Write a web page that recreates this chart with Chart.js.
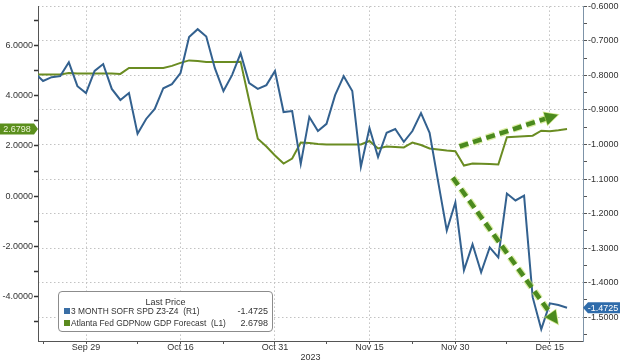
<!DOCTYPE html>
<html>
<head>
<meta charset="utf-8">
<script src="https://cdn.jsdelivr.net/npm/chart.js@4.4.1/dist/chart.umd.min.js"></script>
<style>
body{margin:0;background:#fff}
#wrap{position:relative;width:620px;height:363px}
#legend{position:absolute;left:58px;top:291px;width:215px;height:41px;box-sizing:border-box;border:1.5px solid #8c8c8c;border-radius:4px;background:#fff;font:9px "Liberation Sans",Arial,sans-serif;color:#333}
#legend div{position:absolute;line-height:10px;white-space:pre}
#legend .hd{left:0;right:0;top:5px;text-align:center}
#legend .sw{width:6px;height:6px;left:5px}
#legend .nm{left:12px;font-size:8.4px}
#legend .val{right:4px}
</style>
</head>
<body>
<div id="wrap">
    <canvas id="myChart" width="620" height="363"></canvas>
    <div id="legend">
        <div class="hd">Last Price</div>
        <div class="sw" style="top:16px;background:#3a6ea5"></div>
        <div class="nm" style="top:14px">3 MONTH SOFR SPD Z3-Z4  (R1)</div>
        <div class="val" style="top:14px" id="v1"></div>
        <div class="sw" style="top:28px;background:#5a8a1e"></div>
        <div class="nm" style="top:26px">Atlanta Fed GDPNow GDP Forecast  (L1)</div>
        <div class="val" style="top:26px" id="v2"></div>
    </div>
</div>
<script>
const dates = ["Sep 21","Sep 22","Sep 25","Sep 26","Sep 27","Sep 28","Sep 29",
    "Oct 2","Oct 3","Oct 4","Oct 5","Oct 6","Oct 9","Oct 10","Oct 11","Oct 12","Oct 13","Oct 16",
    "Oct 17","Oct 18","Oct 19","Oct 20","Oct 23","Oct 24","Oct 25","Oct 26","Oct 27","Oct 30","Oct 31",
    "Nov 1","Nov 2","Nov 3","Nov 6","Nov 7","Nov 8","Nov 9","Nov 10","Nov 13","Nov 14","Nov 15",
    "Nov 16","Nov 17","Nov 20","Nov 21","Nov 22","Nov 24","Nov 27","Nov 28","Nov 29","Nov 30",
    "Dec 1","Dec 4","Dec 5","Dec 6","Dec 7","Dec 8","Dec 11","Dec 12","Dec 13","Dec 14","Dec 15",
    "Dec 18","Dec 19","Dec 20","Dec 21"]

// 3 month SOFR spread Z3-Z4, right axis
const sofrSpread = [-0.792,-0.816,-0.805,-0.802,-0.762,-0.831,-0.851,-0.787,-0.767,-0.839,
    -0.871,-0.851,-0.969,-0.926,-0.897,-0.837,-0.825,-0.793,-0.689,-0.666,
    -0.687,-0.779,-0.845,-0.799,-0.736,-0.822,-0.839,-0.828,-0.787,-0.906,
    -0.903,-1.056,-0.920,-0.961,-0.940,-0.857,-0.802,-0.845,-1.064,-0.952,
    -1.036,-0.966,-0.955,-0.992,-0.961,-0.909,-0.966,-1.108,-1.249,-1.168,
    -1.364,-1.289,-1.370,-1.298,-1.327,-1.142,-1.162,-1.148,-1.442,-1.535,
    -1.460,-1.465,-1.4725]

// Atlanta Fed GDPNow, left axis
const gdpNow = [4.86,4.86,4.86,4.86,4.92,4.90,4.90,4.90,4.90,4.90,
    4.88,5.12,5.12,5.12,5.12,5.12,5.20,5.32,5.42,5.40,
    5.36,5.36,5.36,5.36,5.37,3.81,2.29,1.98,1.62,1.30,
    1.50,2.14,2.12,2.08,2.06,2.06,2.06,2.06,2.06,2.20,
    1.90,1.98,1.96,1.94,2.14,2.04,1.90,1.86,1.82,1.79,
    1.22,1.30,1.29,1.28,1.26,2.35,2.37,2.39,2.41,2.61,
    2.59,2.63,2.6798]

const xTickLabels = ["Sep 29","Oct 16","Oct 31","Nov 15","Nov 30","Dec 15"]
const xMinorLabels = ["Sep 22","Oct 9","Oct 23","Nov 8","Nov 22","Dec 8"]
const leftTicks = [6,4,2,0,-2,-4]
const rightTicks = [-0.6,-0.7,-0.8,-0.9,-1.0,-1.1,-1.2,-1.3,-1.4,-1.5]

// hand drawn trend arrows, in date index / axis value terms
const trendArrows = [
    {axis: "yL", from: [49.5, 1.98], to: [60.95, 3.25]},
    {axis: "yR", from: [48.7, -1.096], to: [60.95, -1.52]}
]

const lastSofr = sofrSpread[sofrSpread.length - 1]
const lastGdp = gdpNow[gdpNow.length - 1]
document.getElementById("v1").innerText = lastSofr.toFixed(4)
document.getElementById("v2").innerText = lastGdp.toFixed(4)

const majorX = xTickLabels.map(d => dates.indexOf(d))
const minorX = xMinorLabels.map(d => dates.indexOf(d))
const isMajorR = v => rightTicks.some(t => Math.abs(t - v) < 1e-6)
const font = {family: "'Liberation Sans', Arial, sans-serif", size: 9}

function drawArrow(ctx, x1, y1, x2, y2) {
    const ang = Math.atan2(y2 - y1, x2 - x1)
    const head = 13
    const bx = x2 - Math.cos(ang) * head, by = y2 - Math.sin(ang) * head
    ctx.save()
    ctx.lineCap = "butt"
    ctx.setLineDash([9, 5])
    ctx.strokeStyle = "rgba(190,222,90,0.55)"
    ctx.lineWidth = 7
    ctx.beginPath(); ctx.moveTo(x1, y1); ctx.lineTo(bx, by); ctx.stroke()
    ctx.strokeStyle = "#4b8a1e"
    ctx.lineWidth = 4.5
    ctx.beginPath(); ctx.moveTo(x1, y1); ctx.lineTo(bx, by); ctx.stroke()
    ctx.setLineDash([])
    const px = -Math.sin(ang) * 6.5, py = Math.cos(ang) * 6.5
    ctx.fillStyle = "#4b8a1e"
    ctx.strokeStyle = "rgba(190,222,90,0.7)"
    ctx.lineWidth = 1.5
    ctx.beginPath()
    ctx.moveTo(x2, y2); ctx.lineTo(bx + px, by + py); ctx.lineTo(bx - px, by - py); ctx.closePath()
    ctx.stroke(); ctx.fill()
    ctx.restore()
}

const overlay = {
    id: "overlay",
    afterDatasetsDraw(chart) {
        const x = chart.scales.x
        trendArrows.forEach(a => {
            const s = chart.scales[a.axis]
            drawArrow(chart.ctx, x.getPixelForValue(a.from[0]), s.getPixelForValue(a.from[1]),
                x.getPixelForValue(a.to[0]), s.getPixelForValue(a.to[1]))
        })
    },
    afterDraw(chart) {
        const ctx = chart.ctx
        const area = chart.chartArea
        ctx.save()
        ctx.font = "9px 'Liberation Sans', Arial, sans-serif"
        ctx.textBaseline = "middle"
        ctx.textAlign = "center"

        let y = chart.scales.yL.getPixelForValue(lastGdp)
        ctx.fillStyle = "#5b8f1d"
        ctx.beginPath()
        ctx.moveTo(0, y - 5.5); ctx.lineTo(area.left - 4, y - 5.5); ctx.lineTo(area.left, y)
        ctx.lineTo(area.left - 4, y + 5.5); ctx.lineTo(0, y + 5.5); ctx.closePath(); ctx.fill()
        ctx.fillStyle = "#eef5d8"
        ctx.fillText(lastGdp.toFixed(4), 17, y + 0.5)

        y = chart.scales.yR.getPixelForValue(lastSofr)
        ctx.fillStyle = "#2f6cab"
        ctx.beginPath()
        ctx.moveTo(area.right, y); ctx.lineTo(area.right + 5, y - 5.5); ctx.lineTo(chart.width, y - 5.5)
        ctx.lineTo(chart.width, y + 5.5); ctx.lineTo(area.right + 5, y + 5.5); ctx.closePath(); ctx.fill()
        ctx.fillStyle = "#ffffff"
        ctx.fillText(lastSofr.toFixed(4), area.right + 20, y + 0.5)
        ctx.restore()
    }
}

const ctx = document.getElementById("myChart").getContext("2d")

new Chart(ctx, {
    type: "line",
    data: {
        datasets: [
            {
                label: "3 MONTH SOFR SPD Z3-Z4 (R1)",
                data: sofrSpread.map((v, i) => ({x: i, y: v})),
                yAxisID: "yR",
                borderColor: "#33618f",
                borderWidth: 2,
                pointRadius: 0,
                tension: 0,
                clip: 0
            },
            {
                label: "Atlanta Fed GDPNow GDP Forecast (L1)",
                data: gdpNow.map((v, i) => ({x: i, y: v})),
                yAxisID: "yL",
                borderColor: "#6a8c22",
                borderWidth: 2,
                pointRadius: 0,
                tension: 0,
                clip: 0
            }
        ]
    },
    options: {
        responsive: false,
        animation: false,
        layout: {padding: 0},
        plugins: {legend: {display: false}, tooltip: {enabled: false}},
        scales: {
            x: {
                type: "linear",
                min: 0.41,
                max: 63.86,
                afterBuildTicks: s => { s.ticks = majorX.concat(minorX).map(v => ({value: v})) },
                afterFit: s => { s.height = 22 },
                ticks: {
                    autoSkip: false, maxRotation: 0, padding: -2, color: "#333", font,
                    callback: v => majorX.includes(v) ? dates[v] : ""
                },
                grid: {
                    color: c => c.tick && majorX.includes(c.tick.value) ? "#c2c2c2" : "rgba(0,0,0,0)",
                    tickColor: "#555", tickLength: 3
                },
                border: {color: "#555", dash: [1.5, 2.5]},
                title: {display: true, text: "2023", color: "#333", font, padding: 0}
            },
            yL: {
                position: "left",
                min: -5.793,
                max: 7.578,
                afterBuildTicks: s => { s.ticks = [7,6,5,4,3,2,1,0,-1,-2,-3,-4,-5].map(v => ({value: v})) },
                afterFit: s => { s.width = 38 },
                ticks: {
                    padding: 1, color: "#333", font,
                    callback: v => leftTicks.includes(v) ? v.toFixed(4) : ""
                },
                grid: {drawOnChartArea: false, tickColor: "#333", tickLength: 4, tickWidth: 1.5},
                border: {color: "#555"}
            },
            yR: {
                position: "right",
                min: -1.569,
                max: -0.6,
                afterBuildTicks: s => {
                    const t = []
                    rightTicks.forEach(v => { t.push({value: v}); t.push({value: v - 0.05}) })
                    s.ticks = t
                },
                afterFit: s => { s.width = 37 },
                ticks: {
                    padding: 1, color: "#333", font,
                    callback: v => isMajorR(v) ? v.toFixed(4) : ""
                },
                grid: {
                    color: c => c.tick && isMajorR(c.tick.value) ? "#c2c2c2" : "rgba(0,0,0,0)",
                    tickColor: "#555", tickLength: 4
                },
                border: {color: "#7d93a8", dash: [1.5, 2.5]}
            }
        }
    },
    plugins: [overlay]
})
</script>
</body>
</html>
